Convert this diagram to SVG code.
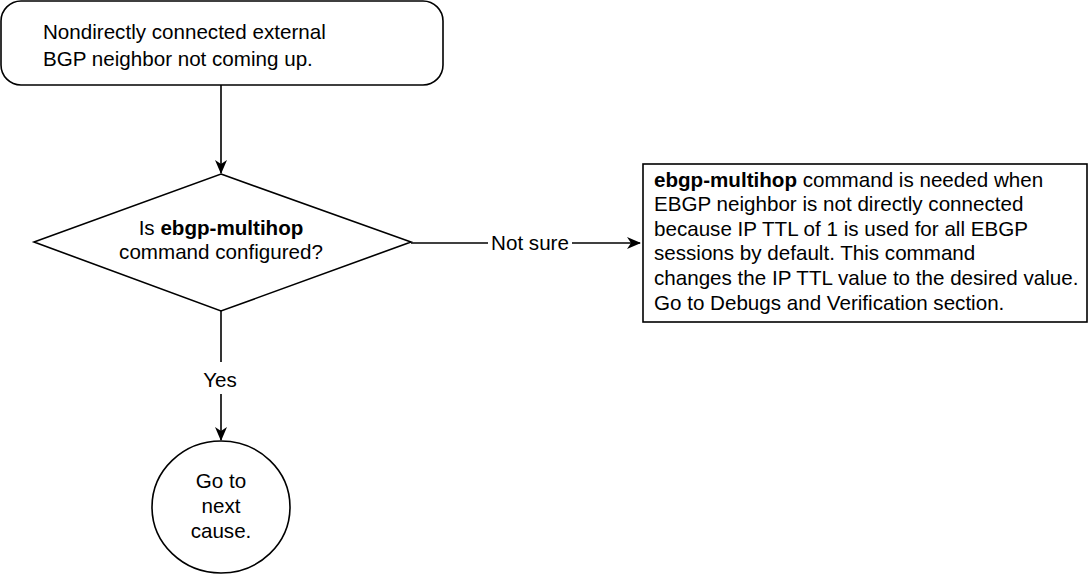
<svg xmlns="http://www.w3.org/2000/svg" width="1088" height="574" viewBox="0 0 1088 574">
<defs>
<marker id="arr" markerWidth="14" markerHeight="12" refX="13" refY="6" orient="auto" markerUnits="userSpaceOnUse">
<path d="M0,0 L14,6 L0,12 L4,6 Z" fill="#000"/>
</marker>
<style>
.s{fill:#fff;stroke:#000;stroke-width:1.6}
.t{font-family:"Liberation Sans",Arial,sans-serif;font-size:20.6px;fill:#000}
.c{text-anchor:middle}
.b{font-weight:bold}
.l{fill:none;stroke:#000;stroke-width:1.6}
</style>
</defs>
<rect width="1088" height="574" fill="#fff"/>
<g id="connectors">
<line class="l" x1="411" y1="243" x2="488" y2="243"/>
<line class="l" x1="572" y1="243" x2="640" y2="243" marker-end="url(#arr)"/>
<line class="l" x1="221" y1="85" x2="221" y2="173" marker-end="url(#arr)"/>
<line class="l" x1="221" y1="311" x2="221" y2="362"/>
<line class="l" x1="221" y1="394" x2="221" y2="440" marker-end="url(#arr)"/>
<text class="t c" x="530" y="250">Not sure</text>
<text class="t c" x="220" y="387">Yes</text>
</g>
<g id="start">
<rect class="s" x="1" y="1" width="442" height="84" rx="20" ry="20"/>
<text class="t" x="43" y="39">Nondirectly connected external</text>
<text class="t" x="43" y="66">BGP neighbor not coming up.</text>
</g>
<g id="decision">
<polygon class="s" points="221,174 411,242 221,311 34,242"/>
<text class="t c" x="221" y="235">Is <tspan class="b">ebgp-multihop</tspan></text>
<text class="t c" x="221" y="259">command configured?</text>
</g>
<g id="info">
<rect class="s" x="643" y="164" width="444" height="158"/>
<text class="t" x="654" y="187"><tspan class="b">ebgp-multihop</tspan> command is needed when</text>
<text class="t" x="654" y="211">EBGP neighbor is not directly connected</text>
<text class="t" x="654" y="236">because IP TTL of 1 is used for all EBGP</text>
<text class="t" x="654" y="260">sessions by default. This command</text>
<text class="t" x="654" y="285">changes the IP TTL value to the desired value.</text>
<text class="t" x="654" y="310">Go to Debugs and Verification section.</text>
</g>
<g id="next">
<ellipse class="s" cx="221" cy="507" rx="69" ry="66"/>
<text class="t c" x="221" y="488">Go to</text>
<text class="t c" x="221" y="513">next</text>
<text class="t c" x="221" y="538">cause.</text>
</g>
</svg>
